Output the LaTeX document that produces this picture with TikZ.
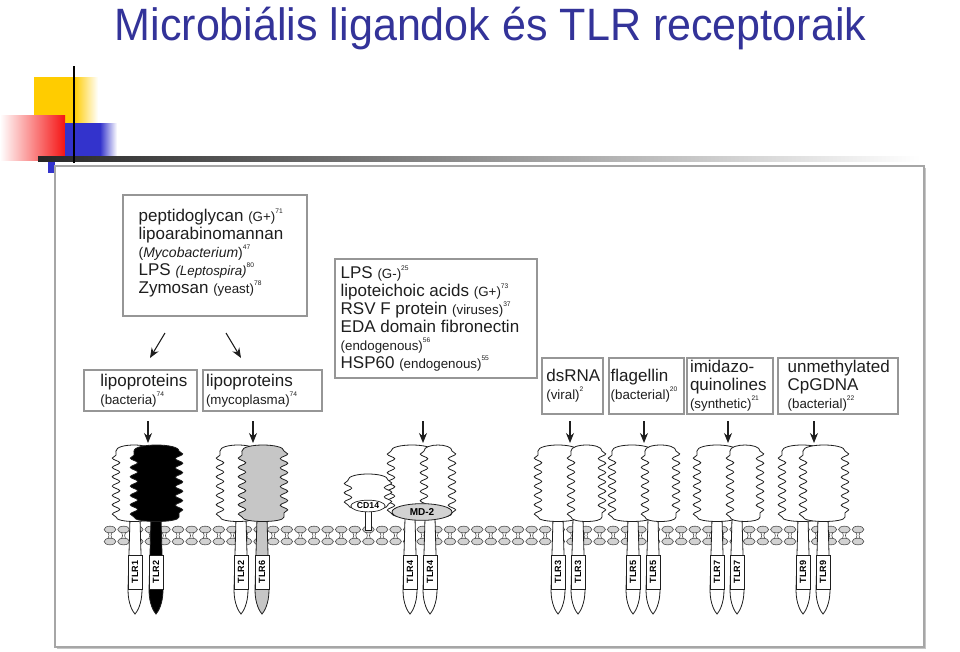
\documentclass[tikz,border=0pt]{standalone}
\usepackage{fontspec}
\setmainfont{Liberation Sans}
\newfontfamily\titlefont[FakeStretch=0.95]{Liberation Sans}
\usetikzlibrary{arrows.meta,decorations.pathmorphing,shapes.geometric}
\definecolor{titleblue}{RGB}{51,51,153}
\definecolor{ink}{RGB}{30,30,30}
\definecolor{boxgray}{RGB}{150,150,150}
\definecolor{decoyellow}{RGB}{255,204,0}
\definecolor{decored}{RGB}{245,20,20}
\definecolor{decoblue}{RGB}{51,51,204}
\newcommand{\sm}[1]{{\fontsize{10}{11}\selectfont #1}}
\newcommand{\refn}[1]{\raisebox{0.9ex}{\fontsize{5}{5}\selectfont #1}}
% ectodomain: left, right, top, bottom, fill
\newcommand{\ecto}[5]{%
  \filldraw[fill=#5, draw=ink, line width=0.6pt] (#1,#3+6) .. controls (#1,#3-2) and (#2,#3-2) .. (#2,#3+6)
    decorate[decoration={snake,amplitude=2.8pt,segment length=7pt}]{-- (#2,#4-5)}
    .. controls (#2,#4+1) and (#1,#4+1) .. (#1,#4-5)
    decorate[decoration={snake,amplitude=2.8pt,segment length=7pt}]{-- (#1,#3+6)} -- cycle;}
% stalk: centre, fill, name, label
\newcommand{\stalk}[4]{%
  \filldraw[fill=#2, draw=ink, line width=0.6pt] (#1-5,518) -- (#1-7,590) .. controls (#1-7,604) and (#1-2,612) .. (#1,614)
    .. controls (#1+2,612) and (#1+7,604) .. (#1+7,590) -- (#1+5,518) -- cycle;
  \node[tlrlabel] (#3) at (#1,572) {#4};}
\tikzset{
  ligbox/.style={draw=boxgray, line width=0.9pt, fill=white, inner sep=0pt},
  boxtext/.style={anchor=west, align=left, inner sep=0pt, text=ink, font=\fontsize{12.75}{13.6}\selectfont},
  tlrlabel/.style={draw=ink, fill=white, rotate=90, line width=0.5pt, inner sep=0pt, minimum width=25.5pt, minimum height=10.5pt, font=\bfseries\fontsize{6.8}{7}\selectfont},
  sigarrow/.style={-{Stealth[length=7.5pt,width=6pt]}, line width=0.8pt, draw=ink},
  lipid/.style={draw=ink!80, fill=gray!35, line width=0.45pt}
}
\begin{document}
\begin{tikzpicture}[x=0.75pt,y=-0.75pt]
\useasboundingbox (0,0) rectangle (960,651);
% title and corner decoration
\node[font=\titlefont\fontsize{34}{34}\selectfont, text=titleblue, anchor=base] (title) at (490.5,40) {Microbiális ligandok és TLR receptoraik};
\fill[decoyellow] (34,77) rectangle (74,123);
\shade[left color=decoyellow, right color=white] (74,77) rectangle (98,123);
\shade[left color=white, right color=decored] (0,115) rectangle (65,160);
\fill[decoblue] (65,123) rectangle (100,160);
\shade[left color=decoblue, right color=white] (100,123) rectangle (117,160);
\fill[decoblue] (48,161) rectangle (55,173);
\shade[left color=black!85, right color=white] (38,156) rectangle (920,161);
\draw[line width=1.6pt] (74,66) -- (74,163);
% frame
\fill[gray!45] (57,168) rectangle (926,649);
\filldraw[fill=white, draw=gray!70, line width=0.9pt] (55,166) rectangle (924,647);
% ligand boxes
\node[ligbox, minimum width=138pt, minimum height=90.75pt] (pgn) at (215,255.5) {};
\node[boxtext] (pgnT) at ([xshift=12pt,yshift=2pt]pgn.west) {peptidoglycan \sm{(G+)}\refn{71}\\lipoarabinomannan\\{\fontsize{10.5}{11}\selectfont(\textit{Mycobacterium})}\refn{47}\\LPS \sm{\textit{(Leptospira)}}\refn{80}\\Zymosan \sm{(yeast)}\refn{78}};
\node[ligbox, minimum width=151.5pt, minimum height=89.25pt] (lps) at (436,318.5) {};
\node[boxtext] (lpsT) at ([xshift=4.5pt]lps.west) {LPS \sm{(G-)}\refn{25}\\lipoteichoic acids \sm{(G+)}\refn{73}\\RSV F protein \sm{(viruses)}\refn{37}\\EDA domain fibronectin\\\sm{(endogenous)}\refn{56}\\HSP60 \sm{(endogenous)}\refn{55}};
\node[ligbox, minimum width=84.75pt, minimum height=30.75pt] (bact) at (140.5,390.5) {};
\node[boxtext] (bactT) at ([xshift=12.5pt]bact.west) {lipoproteins\\\sm{(bacteria)}\refn{74}};
\node[ligbox, minimum width=89.25pt, minimum height=30.75pt] (myco) at (262.5,390.5) {};
\node[boxtext] (mycoT) at ([xshift=2.5pt]myco.west) {lipoproteins\\\sm{(mycoplasma)}\refn{74}};
\node[ligbox, minimum width=45.75pt, minimum height=42pt] (dsrna) at (572.5,386) {};
\node[boxtext] (dsrnaT) at ([xshift=3.5pt]dsrna.west) {dsRNA\\\sm{(viral)}\refn{2}};
\node[ligbox, minimum width=56.25pt, minimum height=42pt] (flag) at (646.5,386) {};
\node[boxtext] (flagT) at ([xshift=1.5pt]flag.west) {flagellin\\\sm{(bacterial)}\refn{20}};
\node[ligbox, minimum width=64.5pt, minimum height=42pt] (imid) at (730,386) {};
\node[boxtext] (imidT) at ([xshift=2.5pt]imid.west) {imidazo-\\quinolines\\\sm{(synthetic)}\refn{21}};
\node[ligbox, minimum width=90pt, minimum height=42pt] (cpg) at (838,386) {};
\node[boxtext] (cpgT) at ([xshift=7.5pt]cpg.west) {unmethylated\\CpGDNA\\\sm{(bacterial)}\refn{22}};
% arrows
\coordinate (pa) at (165,333); \coordinate (pb) at (150,358);
\coordinate (pc) at (226,333); \coordinate (pd) at (241,358);
\draw[sigarrow] (pa) -- (pb);
\draw[sigarrow] (pc) -- (pd);
\foreach \x/\n in {148/r1,253/r2,423/r3,570/r4,644/r5,728/r6,814/r7} {
  \coordinate (\n s) at (\x,421);
  \coordinate (\n e) at (\x,443);
  \draw[sigarrow] (\n s) -- (\n e);
}
% membrane
\foreach \m in {0,...,55} {
  \pgfmathsetmacro\mx{110+13.6*\m}
  \draw[lipid] (\mx,529.5) ellipse[x radius=4.4pt, y radius=2.5pt];
  \draw[lipid] (\mx,541.5) ellipse[x radius=4.4pt, y radius=2.5pt];
  \draw[ink!80, line width=0.45pt] (\mx-2,532.5) -- (\mx-1,535.5) -- (\mx-2,538.5) (\mx+2,532.5) -- (\mx+1,535.5) -- (\mx+2,538.5);
}
% receptors
\stalk{135}{white}{tlrA}{TLR1}
\stalk{156}{black}{tlrB}{TLR2}
\stalk{241}{white}{tlrC}{TLR2}
\stalk{262}{gray!45}{tlrD}{TLR6}
\stalk{410}{white}{tlrE}{TLR4}
\stalk{430}{white}{tlrF}{TLR4}
\stalk{558}{white}{tlrG}{TLR3}
\stalk{578}{white}{tlrH}{TLR3}
\stalk{633}{white}{tlrI}{TLR5}
\stalk{653}{white}{tlrJ}{TLR5}
\stalk{717}{white}{tlrK}{TLR7}
\stalk{737}{white}{tlrL}{TLR7}
\stalk{803}{white}{tlrM}{TLR9}
\stalk{823}{white}{tlrN}{TLR9}
\ecto{116}{152}{445}{522}{white}
\ecto{134}{179}{445}{522}{black}
\ecto{220}{256}{445}{522}{white}
\ecto{242}{284}{445}{522}{gray!45}
\ecto{391}{433}{445}{518}{white}
\ecto{424}{452}{445}{518}{white}
\ecto{538}{578}{445}{522}{white}
\ecto{571}{602}{445}{522}{white}
\ecto{612}{652}{445}{522}{white}
\ecto{645}{676}{445}{522}{white}
\ecto{697}{737}{445}{522}{white}
\ecto{730}{760}{445}{522}{white}
\ecto{782}{822}{445}{522}{white}
\ecto{803}{845}{445}{522}{white}
% CD14 and MD-2
\filldraw[fill=white, draw=ink, line width=0.6pt] (365,505) rectangle (371,530);
\ecto{348}{388}{474}{510}{white}
\node[ellipse, draw=ink, fill=white, line width=0.5pt, inner sep=0.8pt, font=\bfseries\fontsize{6.5}{7}\selectfont] (cd14) at (368,506) {CD14};
\node[ellipse, draw=ink, fill=gray!35, line width=0.6pt, minimum width=45pt, minimum height=12.5pt, inner sep=0pt, font=\bfseries\fontsize{7.5}{8}\selectfont] (md2) at (422,512) {MD-2};
\end{tikzpicture}
\end{document}
